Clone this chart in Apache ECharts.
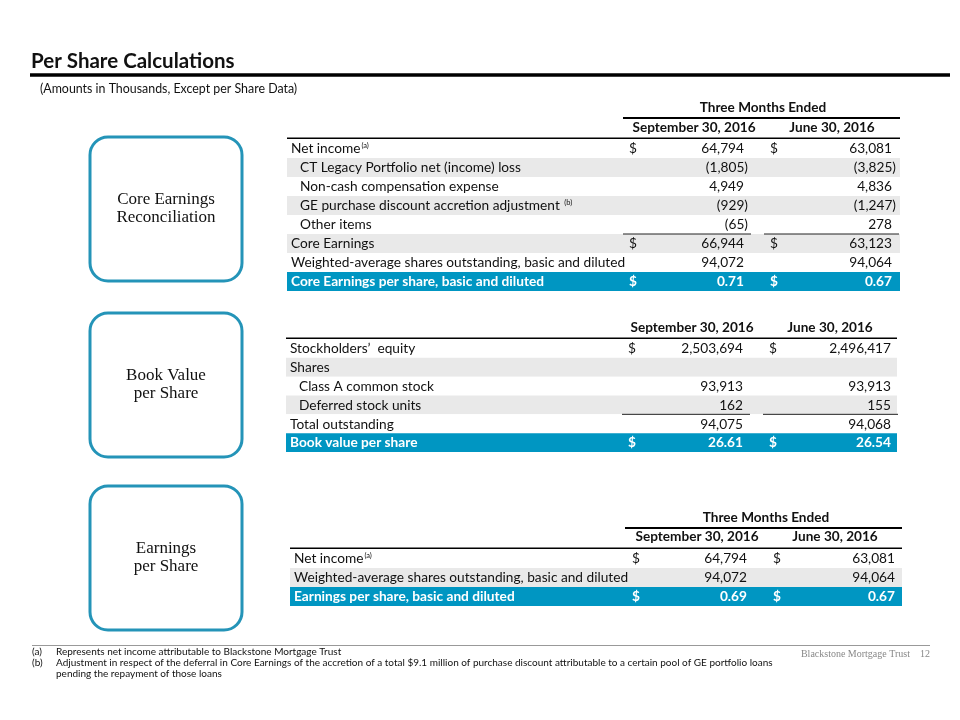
<!DOCTYPE html>
<html>
<head>
<meta charset="utf-8">
<script src="https://cdn.jsdelivr.net/npm/echarts@6/dist/echarts.min.js"></script>
<style>
  html, body { margin: 0; padding: 0; background: #fff; }
  #main { width: 960px; height: 720px; }
</style>
</head>
<body>
<div id="main"></div>
<script>
// core earnings reconciliation
var coreLabels = ['Net income', 'CT Legacy Portfolio net (income) loss', 'Non-cash compensation expense',
  'GE purchase discount accretion adjustment', 'Other items', 'Core Earnings',
  'Weighted-average shares outstanding, basic and diluted', 'Core Earnings per share, basic and diluted'];
var coreLevel = [0, 1, 1, 1, 1, 0, 0, 0];
var coreNotes = ['a', '', '', 'b', '', '', '', ''];
var coreSep = [64794, -1805, 4949, -929, -65, 66944, 94072, 0.71];
var coreJun = [63081, -3825, 4836, -1247, 278, 63123, 94064, 0.67];
var coreDollarRows = [0, 5, 7];
var coreTotalRows = [5];

// book value per share
var bookLabels = ['Stockholders\u2019  equity', 'Shares', 'Class A common stock', 'Deferred stock units',
  'Total outstanding', 'Book value per share'];
var bookLevel = [0, 0, 1, 1, 0, 0];
var bookNotes = ['', '', '', '', '', ''];
var bookSep = [2503694, null, 93913, 162, 94075, 26.61];
var bookJun = [2496417, null, 93913, 155, 94068, 26.54];
var bookDollarRows = [0, 5];
var bookTotalRows = [4];

// earnings per share
var epsLabels = ['Net income', 'Weighted-average shares outstanding, basic and diluted',
  'Earnings per share, basic and diluted'];
var epsLevel = [0, 0, 0];
var epsNotes = ['a', '', ''];
var epsSep = [64794, 94072, 0.69];
var epsJun = [63081, 94064, 0.67];
var epsDollarRows = [0, 2];
var epsTotalRows = [];

var columnTitles = ['September 30, 2016', 'June 30, 2016'];
var periodTitle = 'Three Months Ended';
var boxTitles = ['Core Earnings\nReconciliation', 'Book Value\nper Share', 'Earnings\nper Share'];
var footnotes = [
  ['(a)', 'Represents net income attributable to Blackstone Mortgage Trust'],
  ['(b)', 'Adjustment in respect of the deferral in Core Earnings of the accretion of a total $9.1 million of purchase discount attributable to a certain pool of GE portfolio loans\npending the repayment of those loans']
];

var FONT = 'Lato';
var SERIF = 'Liberation Serif';
var BLUE = '#0096c2';
var GREY = '#e9e9e9';
var BOX = '#2494b8';

function fmt(v) {
  if (v == null) return '';
  var s = Number.isInteger(v) ? Math.abs(v).toLocaleString('en-US') : Math.abs(v).toFixed(2);
  return v < 0 ? '(' + s + ')' : s;
}

function tableSeries(gridIndex, labels, level, notes, sep, jun, dollarRows, totalRows) {
  var n = labels.length;
  return {
    type: 'custom',
    xAxisIndex: gridIndex,
    yAxisIndex: gridIndex,
    silent: true,
    data: labels.map(function (l, i) { return [0, i]; }),
    renderItem: function (params, api) {
      var i = api.value(1);
      var cs = params.coordSys;
      var c = api.coord([0, i]);
      var h = api.size([0, 1])[1];
      var top = c[1] - h / 2;
      var last = i === n - 1;
      var fill = last ? BLUE : (i % 2 === 1 ? GREY : '#fff');
      var color = last ? '#fff' : '#111';
      var weight = last ? 'bold' : 'normal';
      var font = weight + ' 13.7px ' + FONT;
      var cy = c[1] + 0.5;
      var kids = [{
        type: 'rect',
        shape: { x: cs.x, y: top, width: cs.width, height: h },
        style: { fill: fill }
      }];
      var txt = labels[i];
      var rich = { sup: { fontSize: 7.5, fontFamily: FONT, fill: color, padding: [0, 0, 7, 1] } };
      if (notes[i]) txt += (i === 3 ? ' ' : '') + '{sup|(' + notes[i] + ')}';
      kids.push({
        type: 'text',
        style: { x: cs.x + 4 + level[i] * 9, y: cy, text: txt, font: font, fill: color,
          align: 'left', verticalAlign: 'middle', rich: rich }
      });
      var cols = [[cs.x + 342, cs.x + 457, sep[i]], [cs.x + 483, cs.x + 605, jun[i]]];
      cols.forEach(function (col) {
        if (dollarRows.indexOf(i) >= 0) {
          kids.push({ type: 'text', style: { x: col[0], y: cy, text: '$', font: font, fill: color,
            align: 'left', verticalAlign: 'middle' } });
        }
        var v = col[2];
        kids.push({ type: 'text', style: { x: col[1] + (v < 0 ? 4 : 0), y: cy, text: fmt(v), font: font,
          fill: color, align: 'right', verticalAlign: 'middle' } });
        if (totalRows.indexOf(i) >= 0) {
          kids.push({ type: 'line', shape: { x1: col[0] - 6, y1: top, x2: col[1] + 7, y2: top },
            style: { stroke: '#222', lineWidth: 1 } });
        }
      });
      return { type: 'group', children: kids };
    }
  };
}

var grids = [
  { left: 287, top: 139, width: 613, height: 152 },
  { left: 286, top: 339, width: 611, height: 113 },
  { left: 290, top: 549, width: 612, height: 57 }
];
var tables = [
  [coreLabels, coreLevel, coreNotes, coreSep, coreJun, coreDollarRows, coreTotalRows],
  [bookLabels, bookLevel, bookNotes, bookSep, bookJun, bookDollarRows, bookTotalRows],
  [epsLabels, epsLevel, epsNotes, epsSep, epsJun, epsDollarRows, epsTotalRows]
];

function headText(x, y, text) {
  return { type: 'text', x: x, y: y, style: { text: text, font: 'bold 13.6px ' + FONT, fill: '#111',
    align: 'center', verticalAlign: 'middle' } };
}
function rule(x1, x2, y, w, color) {
  return { type: 'line', shape: { x1: x1, y1: y, x2: x2, y2: y }, style: { stroke: color || '#000', lineWidth: w } };
}
function box(top, text) {
  return [
    { type: 'rect', shape: { x: 90, y: top, width: 152, height: 144, r: 18 },
      style: { fill: '#fff', stroke: BOX, lineWidth: 3 } },
    { type: 'text', x: 166, y: top + 72, style: { text: text, font: '17px ' + SERIF, fill: '#111',
      align: 'center', verticalAlign: 'middle', lineHeight: 18 } }
  ];
}

var graphic = [
  { type: 'text', x: 31, y: 61, style: { text: 'Per Share Calculations', font: 'bold 20.5px ' + FONT,
    fill: '#111', verticalAlign: 'middle' } },
  rule(30, 950, 75, 3.5),
  { type: 'text', x: 40, y: 89, style: { text: '(Amounts in Thousands, Except per Share Data)',
    font: '12.4px ' + FONT, fill: '#111', verticalAlign: 'middle' } },
  // table 1 header
  headText(763, 108, periodTitle), rule(623, 900, 118, 2),
  headText(694, 128, columnTitles[0]), headText(832, 128, columnTitles[1]), rule(287, 900, 138.5, 2),
  // table 2 header
  headText(692, 328, columnTitles[0]), headText(830, 328, columnTitles[1]), rule(286, 897, 338.5, 2),
  // table 3 header
  headText(766, 518, periodTitle), rule(625, 902, 528, 2),
  headText(697, 537, columnTitles[0]), headText(835, 537, columnTitles[1]), rule(290, 902, 548.5, 2),
  // footer
  rule(32, 930, 645.5, 1, '#999'),
  { type: 'text', x: 910, y: 654, style: { text: 'Blackstone Mortgage Trust', font: '10px ' + SERIF,
    fill: '#888', align: 'right', verticalAlign: 'middle' } },
  { type: 'text', x: 930, y: 654, style: { text: '12', font: '10px ' + SERIF, fill: '#888',
    align: 'right', verticalAlign: 'middle' } }
].concat(box(137, boxTitles[0]), box(313, boxTitles[1]), box(486, boxTitles[2]));

footnotes.forEach(function (f, k) {
  var y = 652 + k * 11;
  graphic.push({ type: 'text', x: 32, y: y, style: { text: f[0], font: '10px ' + FONT, fill: '#111',
    verticalAlign: 'middle' } });
  graphic.push({ type: 'text', x: 56, y: y - 5.5, style: { text: f[1], font: '10px ' + FONT, fill: '#111',
    verticalAlign: 'top', lineHeight: 11 } });
});

var chart = echarts.init(document.getElementById('main'));
chart.setOption({
  backgroundColor: '#fff',
  animation: false,
  grid: grids,
  xAxis: grids.map(function (g, k) { return { gridIndex: k, type: 'value', min: 0, max: 1, show: false }; }),
  yAxis: tables.map(function (t, k) {
    return { gridIndex: k, type: 'category', data: t[0], inverse: true, show: false };
  }),
  series: tables.map(function (t, k) {
    return tableSeries(k, t[0], t[1], t[2], t[3], t[4], t[5], t[6]);
  }),
  graphic: graphic
});
</script>
</body>
</html>
